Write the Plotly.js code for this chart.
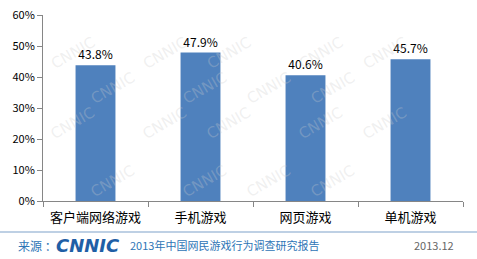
<!DOCTYPE html>
<html><head><meta charset="utf-8">
<script src="https://cdn.plot.ly/plotly-3.0.1.min.js"></script>
<style>html,body{margin:0;padding:0;background:#fff}#chart{width:477px;height:259px}</style>
</head><body><div id="chart"></div>
<script>
var categories = ['客户端网络游戏', '手机游戏', '网页游戏', '单机游戏'];
var values = [43.8, 47.9, 40.6, 45.7];
var valueLabels = ['43.8%', '47.9%', '40.6%', '45.7%'];
var yTickVals = [0, 10, 20, 30, 40, 50, 60];
var yTickText = ['0%', '10%', '20%', '30%', '40%', '50%', '60%'];

var L = 43, R = 463, T = 15, B = 201, W = 477, H = 259;
function px(x){ return (x - L) / (R - L); }
function py(y){ return (B - y) / (B - T); }

var font = 'Noto Sans CJK SC, Noto Sans, sans-serif';
var annotations = [];
// faint watermark
for (var r = 0; r < 4; r++) {
  for (var c = 0; c < 5; c++) {
    var x = 45 + c * 92 + (r % 2) * 40;
    var y = 30 + r * 58;
    if (x > 440) continue;
    annotations.push({xref:'paper', yref:'paper', x:px(x), y:py(y), text:'CNNIC', showarrow:false,
      textangle:-30, font:{family:'DejaVu Sans, sans-serif', size:15, color:'rgba(205,205,205,0.3)'}});
  }
}
annotations.push({xref:'paper', yref:'paper', x:px(16), y:py(245), xanchor:'left', yanchor:'middle',
  text:'来源 ：', showarrow:false, font:{family:font, size:12, color:'#2e75b6'}});
annotations.push({xref:'paper', yref:'paper', x:px(54), y:py(245), xanchor:'left', yanchor:'middle',
  text:'<b><i>CNNIC</i></b>', showarrow:false, font:{family:'DejaVu Sans, sans-serif', size:18, color:'#1f5fa6'}});
annotations.push({xref:'paper', yref:'paper', x:px(128), y:py(245), xanchor:'left', yanchor:'middle',
  text:'2013年中国网民游戏行为调查研究报告', showarrow:false, font:{family:font, size:11, color:'#2e75b6'}});
annotations.push({xref:'paper', yref:'paper', x:px(412), y:py(245), xanchor:'left', yanchor:'middle',
  text:'2013.12', showarrow:false, font:{family:font, size:11, color:'#666666'}});

var trace = {
  type:'bar', x:categories, y:values, text:valueLabels, textposition:'outside',
  textfont:{family:font, size:12, color:'#000'}, cliponaxis:false,
  marker:{color:'#4f81bd', line:{width:0}}, width:0.38, hoverinfo:'skip'
};
var layout = {
  width:W, height:H, margin:{l:L, r:W-R, t:T, b:H-B},
  paper_bgcolor:'#fff', plot_bgcolor:'rgba(0,0,0,0)',
  showlegend:false,
  xaxis:{type:'category', showline:true, linecolor:'#868686', linewidth:1,
    ticks:'outside', ticklen:5, tickcolor:'#868686', tickson:'boundaries', ticklabelstandoff:4,
    tickfont:{family:font, size:13, color:'#000'}, showgrid:false, zeroline:false, fixedrange:true},
  yaxis:{range:[0,60], tickvals:yTickVals, ticktext:yTickText, showline:true, linecolor:'#868686',
    linewidth:1, ticks:'outside', ticklen:5, tickcolor:'#868686', showgrid:false, zeroline:false,
    tickfont:{family:font, size:11, color:'#000'}, fixedrange:true},
  shapes:[{type:'line', xref:'paper', yref:'paper', x0:px(0), x1:px(477), y0:py(232), y1:py(232),
    line:{color:'#a9c1db', width:1.5}}],
  annotations:annotations
};
Plotly.newPlot('chart', [trace], layout, {displayModeBar:false, staticPlot:true});
</script></body></html>
